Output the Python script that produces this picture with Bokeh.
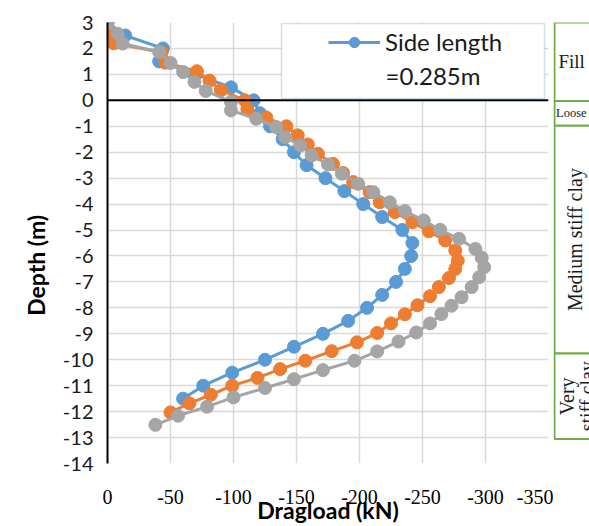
import math
from bokeh.plotting import figure
from bokeh.models import (Range1d, FixedTicker, Span, Legend, LegendItem, Label,
                          BoxAnnotation)
from bokeh.layouts import row
from bokeh.core.properties import value
from bokeh.embed import file_html
from bokeh.resources import INLINE

# ---------------- data ----------------
blue_depth = [3.0, 2.5, 2.0, 1.5, 1.0, 0.5, 0.0, -0.5, -1.0, -1.5, -2.0, -2.5, -3.0,
              -3.5, -4.0, -4.5, -5.0, -5.5, -6.0, -6.5, -7.0, -7.5, -8.0, -8.5,
              -9.0, -9.5, -10.0, -10.5, -11.0, -11.5]
blue_load = [0, -14, -44, -41, -70, -98, -116, -121, -129, -139, -148, -158, -173,
             -188, -203, -218, -234, -242, -241, -236, -229, -218, -206, -191,
             -171, -148, -125, -99, -76, -60]

orange_depth = [3.0, 2.6, 2.2, 1.85, 1.45, 1.12, 0.76, 0.39, 0.0, -0.34, -0.66, -1.0,
                -1.35, -1.7, -2.06, -2.45, -2.8, -3.15, -3.54, -3.93, -4.31, -4.7,
                -5.05, -5.4, -5.79, -6.18, -6.5, -6.85, -7.2, -7.55, -7.9, -8.25,
                -8.6, -8.97, -9.33, -9.67, -10.04, -10.36, -10.7, -11.0, -11.35,
                -11.68, -12.03]
orange_load = [0, -3, -5, -43, -46, -71, -81, -90, -109, -111, -126, -142,
               -151, -159, -167, -179, -187, -195, -208, -216, -228, -242,
               -255, -268, -276, -278, -276, -271, -263, -256, -246, -236,
               -225, -214, -198, -178, -157, -137, -119, -99, -82,
               -65, -50]

gray_depth = [2.97, 2.57, 2.19, 1.86, 1.44, 1.09, 0.71, 0.36, -0.06, -0.39, -0.71,
              -1.03, -1.42, -1.74, -2.12, -2.47, -2.83, -3.22, -3.54, -3.93, -4.27,
              -4.63, -4.99, -5.34, -5.73, -6.07, -6.43, -6.82, -7.2, -7.59, -7.92,
              -8.24, -8.6, -8.95, -9.3, -9.68, -10.04, -10.4, -10.75, -11.09,
              -11.45, -11.81, -12.16, -12.51]
gray_load = [0, -8, -12, -41, -50, -60, -69, -78, -98, -98, -118,
             -134, -141, -153, -162, -175, -186, -199, -211, -224, -236,
             -251, -264, -279, -292, -297, -299, -295, -289, -281, -273,
             -265, -256, -245, -231, -214, -196, -171, -148, -125,
             -100, -79, -56, -38]

x_ticks = [0, -50, -100, -150, -200, -250, -300, -350]
x_tick_labels = ["0", "-50", "-100", "-150", "-200", "-250", "-300", "-350"]
y_ticks = list(range(-14, 4))
y_tick_labels = [str(t) for t in y_ticks]

soil_names = ["Fill", "Loose", "Medium stiff clay", "Very stiff clay"]
soil_top = [3.15, 0.1, -0.86, -9.72]
soil_bottom = [0.1, -0.86, -9.72, -13.05]

# ---------------- layout constants (page pixels) ----------------
X_MIN, X_MAX = 0, -350
Y_MIN, Y_MAX = -14, 3
FRAME_L, FRAME_T, FRAME_W, FRAME_H = 107, 22, 441, 441
MAIN_W, H = 553, 526
SOIL_W = 36
PPU_X = FRAME_W / (X_MIN - X_MAX)
PPU_Y = FRAME_H / (Y_MAX - Y_MIN)
BOTTOM_B = H - FRAME_T - FRAME_H


def fx(px):  # pixel -> data x
    return X_MIN - (px - FRAME_L) / PPU_X


def fy(py):  # pixel -> data y
    return Y_MAX - (py - FRAME_T) / PPU_Y


BLUE, ORANGE, GRAY = "#5b9bd5", "#ed7d31", "#a5a5a5"
SANS = "Lato"
SERIF = "Liberation Serif"
NB = "\u00a0"

p = figure(width=MAIN_W, height=H, x_range=Range1d(X_MIN, X_MAX),
           y_range=Range1d(Y_MIN, Y_MAX), output_backend="svg",
           toolbar_location=None, title=None,
           min_border_left=FRAME_L, min_border_right=MAIN_W - FRAME_L - FRAME_W,
           min_border_top=FRAME_T, min_border_bottom=BOTTOM_B)
p.background_fill_color = "white"
p.border_fill_color = "white"
p.outline_line_color = None

p.xaxis.ticker = FixedTicker(ticks=x_ticks)
p.xaxis.major_label_overrides = {t: l for t, l in zip(x_ticks, x_tick_labels)}
p.xaxis.axis_line_color = None
p.xaxis.major_tick_line_color = None
p.xaxis.minor_tick_line_color = None
p.xaxis.major_label_text_font = SERIF
p.xaxis.major_label_text_font_size = "20px"
p.xaxis.major_label_text_color = "black"
p.xaxis.major_label_standoff = 20
p.xaxis.axis_label = "Dragload (kN)"
p.xaxis.axis_label_text_font = SANS
p.xaxis.axis_label_text_font_style = "bold"
p.xaxis.axis_label_text_font_size = "23px"
p.xaxis.axis_label_text_color = "black"
p.xaxis.axis_label_standoff = -11

p.yaxis.ticker = FixedTicker(ticks=y_ticks)
p.yaxis.major_label_overrides = {t: l for t, l in zip(y_ticks, y_tick_labels)}
p.yaxis.axis_line_color = "black"
p.yaxis.axis_line_width = 2
p.yaxis.major_tick_line_color = None
p.yaxis.minor_tick_line_color = None
p.yaxis.major_label_text_font = SANS
p.yaxis.major_label_text_font_size = "20px"
p.yaxis.major_label_text_color = "#1a1a1a"
p.yaxis.major_label_standoff = 8
p.yaxis.axis_label = "Depth (m)" + NB * 8
p.yaxis.axis_label_text_font = SANS
p.yaxis.axis_label_text_font_style = "bold"
p.yaxis.axis_label_text_font_size = "23px"
p.yaxis.axis_label_text_color = "black"
p.yaxis.axis_label_standoff = 10

p.xgrid.ticker = FixedTicker(ticks=x_ticks)
p.ygrid.ticker = FixedTicker(ticks=y_ticks)
p.grid.grid_line_color = "#d9d9d9"
p.grid.grid_line_width = 1.5

p.add_layout(Span(location=0, dimension="width", line_color="black", line_width=2))

renderers = {}
for name, d, v, c in [("blue", blue_depth, blue_load, BLUE),
                      ("orange", orange_depth, orange_load, ORANGE),
                      ("gray", gray_depth, gray_load, GRAY)]:
    ln = p.line(v, d, line_color=c, line_width=3)
    sc = p.scatter(v, d, marker="circle", size=13, fill_color=c, line_color=c)
    renderers[name] = [ln, sc]

# legend box
p.add_layout(BoxAnnotation(left=fx(281), right=fx(544), top=fy(23), bottom=fy(98),
                           fill_color="white", fill_alpha=1.0,
                           line_color=BLUE, line_width=1.5))
legend = Legend(items=[LegendItem(label="Side length", renderers=renderers["blue"])],
                location=(328 - FRAME_L, FRAME_T + FRAME_H - 42 - 14),
                padding=0, margin=0,
                border_line_color=None, background_fill_alpha=0,
                glyph_width=52, glyph_height=26, label_standoff=5,
                label_text_font=SANS, label_text_font_size="24px",
                label_text_color="#1a1a1a")
p.add_layout(legend)
p.add_layout(Label(x=fx(385), y=fy(75), text="=0.285m", text_font=SANS,
                   text_font_size="24px", text_color="#1a1a1a",
                   text_align="left", text_baseline="middle"))

# ---------------- soil column ----------------
SOIL_T = FRAME_T - 4
s = figure(width=SOIL_W, height=H, x_range=Range1d(0, SOIL_W),
           y_range=Range1d(Y_MIN, Y_MAX + 4 / PPU_Y),
           output_backend="svg", toolbar_location=None, title=None,
           x_axis_location=None, y_axis_location=None,
           min_border_left=0, min_border_right=0,
           min_border_top=SOIL_T, min_border_bottom=BOTTOM_B)
s.grid.visible = False
s.outline_line_color = None
s.background_fill_color = "white"
s.border_fill_color = "white"
s.quad(left=1, right=SOIL_W + 20, top=soil_top, bottom=soil_bottom,
       fill_color="white", line_color="#70ad47", line_width=2)
mid = [(t + b) / 2 for t, b in zip(soil_top, soil_bottom)]
s.text(x=[5], y=[mid[0]], text=[soil_names[0]], text_font=value(SERIF),
       text_font_size="19px", text_align="left", text_baseline="middle",
       text_color="#1a1a1a")
s.text(x=[2.5], y=[mid[1]], text=[soil_names[1]], text_font=value(SERIF),
       text_font_size="12.5px", text_align="left", text_baseline="middle",
       text_color="#1a1a1a")
s.text(x=[21], y=[mid[2]], text=[soil_names[2]], text_font=value(SERIF),
       text_font_size="20px", text_align="center", text_baseline="middle",
       angle=math.pi / 2, text_color="#1a1a1a")
very, stiff = soil_names[3].split(" ", 1)
s.text(x=[13, 33], y=[mid[3], mid[3]], text=[very, stiff], text_font=value(SERIF),
       text_font_size="20px", text_align="center", text_baseline="middle",
       angle=math.pi / 2, text_color="#1a1a1a")

layout = row(p, s)
open("out.html", "w").write(file_html(layout, INLINE))
